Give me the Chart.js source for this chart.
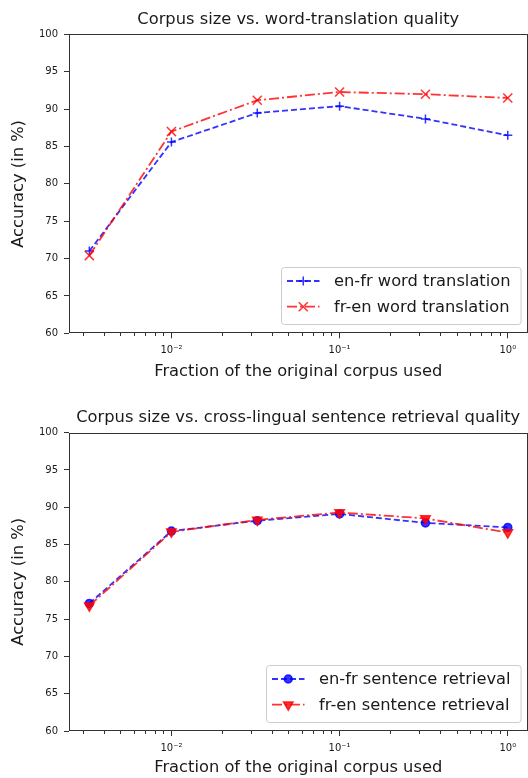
<!DOCTYPE html>
<html>
<head>
<meta charset="utf-8">
<script src="https://cdn.jsdelivr.net/npm/chart.js@4"></script>
<style>
  body { margin: 0; background: #fff; }
  .painel { position: absolute; left: 0; width: 528px; }
  canvas { display: block; }
</style>
</head>
<body>
<div class="painel" style="top:0;height:390px"><canvas id="chartWord" width="528" height="390"></canvas></div>
<div class="painel" style="top:390px;height:388px"><canvas id="chartSentence" width="528" height="388"></canvas></div>
<script>
// Fractions of the corpus (x) shared by both charts
const corpusFractions = [0.00325, 0.01, 0.0324, 0.1, 0.324, 1];

// Word translation accuracy (top chart)
const wordEnFr = [71.0, 85.6, 89.5, 90.4, 88.7, 86.5];
const wordFrEn = [70.4, 87.0, 91.2, 92.3, 92.0, 91.5];

// Sentence retrieval accuracy (bottom chart)
const sentEnFr = [77.1, 86.8, 88.2, 89.1, 87.9, 87.3];
const sentFrEn = [76.8, 86.7, 88.3, 89.3, 88.5, 86.6];

// Axis ticks
const xMajorTicks = [0.01, 0.1, 1];
const xMajorLabels = ['10\u207B\u00B2', '10\u207B\u00B9', '10\u2070'];
const xMinorTicks = [0.003, 0.004, 0.005, 0.006, 0.007, 0.008, 0.009,
                     0.02, 0.03, 0.04, 0.05, 0.06, 0.07, 0.08, 0.09,
                     0.2, 0.3, 0.4, 0.5, 0.6, 0.7, 0.8, 0.9];
const yTicks = [60, 65, 70, 75, 80, 85, 90, 95, 100];

const BLUE = 'rgba(0,0,255,0.8)';
const RED = 'rgba(255,0,0,0.8)';
const INK = '#1a1a1a';
const FONT = '"DejaVu Sans", sans-serif';

Chart.defaults.font.family = FONT;
Chart.defaults.color = INK;

const pontos = (serie) => corpusFractions.map((x, i) => ({ x: x, y: serie[i] }));

// Black frame round the plot area (matplotlib spines)
const molduraPlugin = {
    id: 'moldura',
    afterDatasetsDraw(chart) {
        const a = chart.chartArea;
        const ctx = chart.ctx;
        ctx.save();
        ctx.strokeStyle = '#333';
        ctx.lineWidth = 1;
        ctx.strokeRect(Math.round(a.left) + 0.5, Math.round(a.top) + 0.5,
                       Math.round(a.right - a.left) - 1, Math.round(a.bottom - a.top) - 1);
        ctx.restore();
    }
};

// Legend boxed inside the lower right corner of the plot
const legendaPlugin = {
    id: 'legendaInterna',
    afterDraw(chart) {
        const { ctx, chartArea } = chart;
        const sets = chart.data.datasets;
        ctx.save();
        ctx.font = '16.3px ' + FONT;
        const textW = Math.max(...sets.map(d => ctx.measureText(d.label).width));
        const w = 53 + textW + 10;
        const h = 57;
        const x = Math.round(chartArea.right - 7 - w);
        const y = Math.round(chartArea.bottom - 9 - h);

        ctx.beginPath();
        ctx.roundRect(x + 0.5, y + 0.5, w, h, 3);
        ctx.fillStyle = 'rgba(255,255,255,0.8)';
        ctx.fill();
        ctx.strokeStyle = '#cccccc';
        ctx.lineWidth = 1;
        ctx.stroke();

        sets.forEach((d, i) => {
            const cy = y + 14 + i * 25.7;
            ctx.setLineDash(d.borderDash);
            ctx.strokeStyle = d.borderColor;
            ctx.lineWidth = d.borderWidth;
            ctx.beginPath();
            ctx.moveTo(x + 6, cy);
            ctx.lineTo(x + 38.5, cy);
            ctx.stroke();
            ctx.setLineDash([]);

            ctx.fillStyle = d.pointBackgroundColor;
            ctx.strokeStyle = d.pointBorderColor;
            ctx.lineWidth = d.pointBorderWidth;
            Chart.helpers.drawPoint(ctx, {
                pointStyle: d.pointStyle,
                rotation: d.pointRotation || 0,
                radius: d.pointRadius,
                borderWidth: d.pointBorderWidth
            }, x + 22.25, cy);

            ctx.fillStyle = INK;
            ctx.textBaseline = 'middle';
            ctx.textAlign = 'left';
            ctx.fillText(d.label, x + 53, cy + 1);
        });
        ctx.restore();
    }
};

function serie(label, data, cor, tracejado, marcador, raio, ordem, rotacao) {
    return {
        label: label,
        data: pontos(data),
        borderColor: cor,
        backgroundColor: cor,
        borderWidth: 1.8,
        borderDash: tracejado,
        pointStyle: marcador,
        pointRadius: raio,
        pointHoverRadius: raio,
        pointRotation: rotacao || 0,
        pointBorderColor: cor,
        pointBackgroundColor: cor,
        pointBorderWidth: 1.5,
        tension: 0,
        fill: false,
        order: ordem
    };
}

function montarGrafico(id, titulo, datasets, lay) {
    const ctx = document.getElementById(id).getContext('2d');
    return new Chart(ctx, {
        type: 'line',
        data: { datasets: datasets },
        plugins: [molduraPlugin, legendaPlugin],
        options: {
            responsive: false,
            animation: false,
            devicePixelRatio: 1,
            layout: { autoPadding: false, padding: { left: 0, right: 0.5, top: 0, bottom: 0 } },
            plugins: {
                legend: { display: false },
                tooltip: { enabled: false },
                title: {
                    display: true,
                    text: titulo,
                    fullSize: false,
                    color: INK,
                    font: { size: 16.3, weight: 'normal', family: FONT },
                    padding: { top: lay.titleTop, bottom: lay.titleBottom }
                }
            },
            scales: {
                x: {
                    type: 'logarithmic',
                    min: 0.00246,
                    max: 1.31,
                    border: { display: false },
                    grid: {
                        drawOnChartArea: false,
                        drawTicks: true,
                        tickLength: 5,
                        tickColor: '#333',
                        tickWidth: 1,
                        tickBorderDash: (c) => (c.tick && c.tick.major) ? [] : [3, 20]
                    },
                    afterBuildTicks: (axis) => {
                        const vals = xMinorTicks.concat(xMajorTicks).sort((a, b) => a - b);
                        axis.ticks = vals.map(v => ({ value: v, major: xMajorTicks.includes(v) }));
                    },
                    afterFit: (axis) => {
                        axis.height = lay.xHeight;
                        axis.paddingLeft = 0;
                        axis.paddingRight = 0;
                    },
                    ticks: {
                        autoSkip: false,
                        maxRotation: 0,
                        minRotation: 0,
                        padding: 6,
                        color: INK,
                        font: { size: 10 },
                        callback: (v) => {
                            const k = xMajorTicks.indexOf(v);
                            return k >= 0 ? xMajorLabels[k] : '';
                        }
                    },
                    title: {
                        display: true,
                        text: 'Fraction of the original corpus used',
                        color: INK,
                        font: { size: 16.3 },
                        padding: { top: 0, bottom: lay.xTitleBottom }
                    }
                },
                y: {
                    type: 'linear',
                    min: 60,
                    max: 100,
                    border: { display: false },
                    grid: {
                        drawOnChartArea: false,
                        drawTicks: true,
                        tickLength: 5,
                        tickColor: '#333'
                    },
                    afterBuildTicks: (axis) => {
                        axis.ticks = yTicks.map(v => ({ value: v }));
                    },
                    afterFit: (axis) => { axis.width = 69; },
                    ticks: { padding: 6, color: INK, font: { size: 10 } },
                    title: {
                        display: true,
                        text: 'Accuracy (in %)',
                        color: INK,
                        font: { size: 16.3 },
                        padding: { top: 8.7, bottom: 0 }
                    }
                }
            }
        }
    });
}

window.addEventListener('DOMContentLoaded', () => {
    montarGrafico('chartWord', 'Corpus size vs. word-translation quality', [
        serie('en-fr word translation', wordEnFr, BLUE, [6, 3], 'cross', 4.5, 1),
        serie('fr-en word translation', wordFrEn, RED, [10, 3, 2, 3], 'crossRot', 6.4, 0)
    ], { titleTop: 10.2, titleBottom: 4.7, xHeight: 56.7, xTitleBottom: 8.2 });

    montarGrafico('chartSentence', 'Corpus size vs. cross-lingual sentence retrieval quality', [
        serie('en-fr sentence retrieval', sentEnFr, BLUE, [6, 3], 'circle', 4, 1),
        serie('fr-en sentence retrieval', sentFrEn, RED, [10, 3, 2, 3], 'triangle', 5.5, 0, 180)
    ], { titleTop: 17.5, titleBottom: 5.6, xHeight: 47, xTitleBottom: 0.2 });
});
</script>
</body>
</html>
